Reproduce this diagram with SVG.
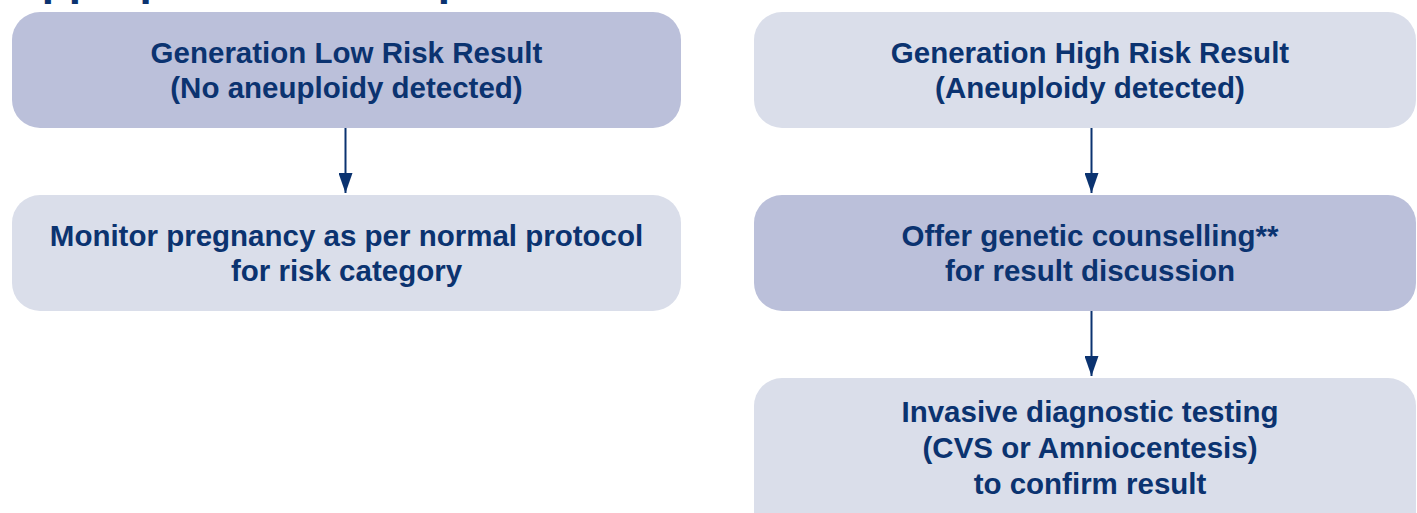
<svg xmlns="http://www.w3.org/2000/svg" width="1417" height="513" viewBox="0 0 1417 513">
<defs>
<style>
.dark{fill:#BBC0DA}
.light{fill:#DADEEA}
.t{font-family:"Liberation Sans",Arial,sans-serif;font-weight:bold;font-size:29.5px;fill:#0B3370;text-anchor:middle}
.title{font-family:"Liberation Sans",Arial,sans-serif;font-weight:bold;font-size:44px;fill:#0B3370}
.conn{stroke:#0B3370;stroke-width:2;fill:none;marker-end:url(#ah)}
</style>
<marker id="ah" viewBox="0 0 20 14" refX="20" refY="7" markerWidth="20" markerHeight="14" markerUnits="userSpaceOnUse" orient="auto">
<path d="M0,0 L20,7 L0,14 z" fill="#0B3370"/>
</marker>
</defs>
<rect width="1417" height="513" fill="#FFFFFF"/>
<text class="title" x="10" y="-5">Appropriate next steps</text>
<g id="n1">
<rect class="dark" x="12" y="12" width="669" height="116" rx="28"/>
<text class="t" x="346.5" y="63">Generation Low Risk Result</text>
<text class="t" x="346.5" y="98">(No aneuploidy detected)</text>
</g>
<g id="n2">
<rect class="light" x="12" y="195" width="669" height="116" rx="28"/>
<text class="t" x="346.5" y="246">Monitor pregnancy as per normal protocol</text>
<text class="t" x="346.5" y="281">for risk category</text>
</g>
<g id="n3">
<rect class="light" x="754" y="12" width="662" height="116" rx="28"/>
<text class="t" x="1090" y="63">Generation High Risk Result</text>
<text class="t" x="1090" y="98">(Aneuploidy detected)</text>
</g>
<g id="n4">
<rect class="dark" x="754" y="195" width="662" height="116" rx="28"/>
<text class="t" x="1090" y="246">Offer genetic counselling**</text>
<text class="t" x="1090" y="281">for result discussion</text>
</g>
<g id="n5">
<rect class="light" x="754" y="378" width="662" height="170" rx="28"/>
<text class="t" x="1090" y="422">Invasive diagnostic testing</text>
<text class="t" x="1090" y="458">(CVS or Amniocentesis)</text>
<text class="t" x="1090" y="494">to confirm result</text>
</g>
<g id="connectors">
<line class="conn" x1="345.5" y1="128" x2="345.5" y2="193"/>
<line class="conn" x1="1091.5" y1="128" x2="1091.5" y2="193"/>
<line class="conn" x1="1091.5" y1="311" x2="1091.5" y2="376"/>
</g>
</svg>
